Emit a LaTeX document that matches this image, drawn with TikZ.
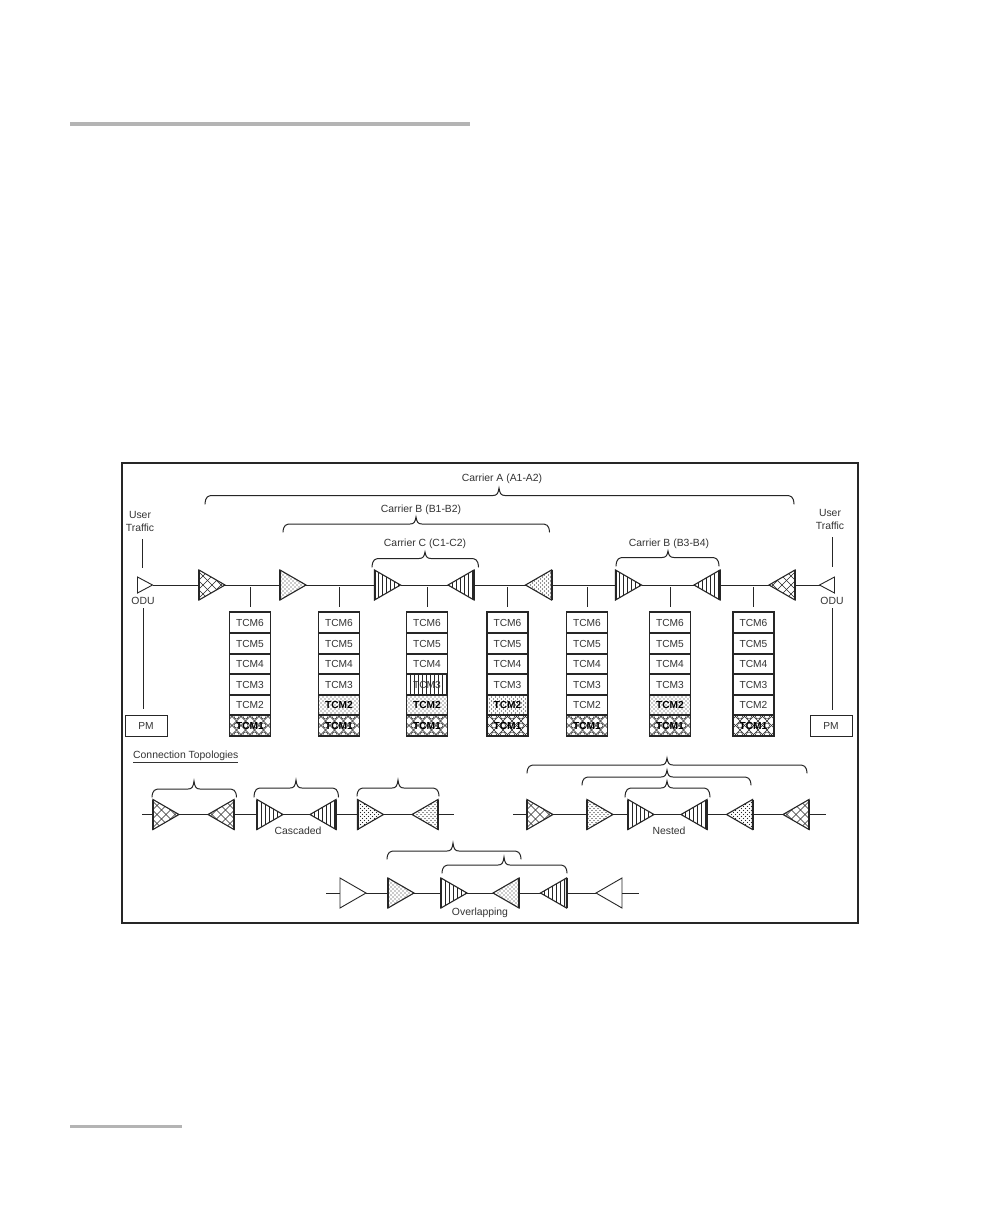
\documentclass[tikz,border=0pt]{standalone}
\usepackage{fontspec}
\setmainfont{Liberation Sans}
\definecolor{ink}{HTML}{262626}
\definecolor{txt}{HTML}{333333}
\definecolor{bar}{HTML}{B4B4B4}
\tikzset{
  wire/.style={draw=ink,line width=1pt},
  tribox/.style={inner sep=0pt,outer sep=0pt,minimum width=26pt,minimum height=30pt},
  smallbox/.style={inner sep=0pt,outer sep=0pt,minimum width=15pt,minimum height=16pt},
  cell/.style={inner sep=0pt,outer sep=0pt,minimum width=41pt,text=txt,font=\fontsize{10.2}{12}\selectfont},
  lab/.style={inner sep=0pt,text=txt,font=\fontsize{10.4}{12}\selectfont},
  pmbox/.style={draw=ink,line width=1pt,fill=white,inner sep=0pt,minimum width=42pt,minimum height=21pt,text=txt,font=\fontsize{10.2}{12}\selectfont},
  bracew/.style={draw=ink,line width=1pt,line cap=round},
}
\newcommand\hatchplain{}
\newcommand\hatchcross{%
  \foreach \k in {-72,-63,...,72}{
    \draw[ink,line width=0.6pt] (\k-30,-30) -- (\k+30,30);
    \draw[ink,line width=0.6pt] (\k+30,-30) -- (\k-30,30);
  }}
\newcommand\hatchcirc{%
  \hatchcross
  \foreach \a in {-27,-18,...,18}{
    \foreach \b in {-9,0,9}{
      \draw[ink,line width=0.5pt,fill=white] (\a+4.5,\b) circle (2.5);
    }}}
\newcommand\hatchdots{%
  \foreach \a in {-24,-20,...,24}{
    \foreach \b in {-16,-12,...,16}{
      \fill[ink] (\a,\b) circle (0.55);
      \fill[ink] (\a+2,\b+2) circle (0.55);
    }}}
\newcommand\hatchstripes{%
  \foreach \k in {-22,-18,...,22}{
    \draw[ink,line width=1pt] (\k+1,-30) -- (\k+1,30);
  }}
\newcommand\weightplain{}
\newcommand\weightstripes{}
\newcommand\weightdots{\bfseries\color{black}}
\newcommand\weightcirc{\bfseries\color{black}}
% name, x, y, direction (r or l), hatch
\newcommand\mytri[5]{%
  \node[tribox] (#1) at (#2,#3) {};
  \begin{scope}
    \ifx r#4\clip (#1.north west) -- (#1.east) -- (#1.south west) -- cycle;
    \else\clip (#1.north east) -- (#1.west) -- (#1.south east) -- cycle;\fi
    \begin{scope}[shift={(#1.center)}]\csname hatch#5\endcsname\end{scope}
  \end{scope}
  \ifx r#4\draw[ink,line width=1.1pt,line join=miter] (#1.north west) -- (#1.east) -- (#1.south west) -- cycle;
  \draw[ink,line width=2pt] (#1.north west) -- (#1.south west);
  \else\draw[ink,line width=1.1pt,line join=miter] (#1.north east) -- (#1.west) -- (#1.south east) -- cycle;
  \draw[ink,line width=2pt] (#1.north east) -- (#1.south east);\fi
}
% name, x, y, direction: empty triangle
\newcommand\myopen[4]{%
  \node[tribox] (#1) at (#2,#3) {};
  \ifx r#4\draw[ink,line width=0.9pt] (#1.north west) -- (#1.east) -- (#1.south west) -- cycle;
  \else\draw[ink,line width=0.9pt] (#1.north east) -- (#1.west) -- (#1.south east) -- cycle;\fi
}
% name, x, top y, bottom y, hatch, label
\newcommand\mycell[6]{%
  \node[cell,minimum height=#4-#3] (#1) at (#2,{(#3+#4)/2}) {};
  \begin{scope}
    \clip (#1.south west) rectangle (#1.north east);
    \begin{scope}[shift={(#1.center)}]\csname hatch#5\endcsname\end{scope}
  \end{scope}
  \draw[ink,line width=1.1pt] (#1.south west) rectangle (#1.north east);
  \node[cell] at (#1.center) {\csname weight#5\endcsname #6};
}
% name, x, hatch of TCM3, hatch of TCM2
\newcommand\mystack[4]{%
  \mycell{#1f}{#2}{612}{633}{plain}{TCM6}
  \mycell{#1e}{#2}{633}{654}{plain}{TCM5}
  \mycell{#1d}{#2}{654}{674}{plain}{TCM4}
  \mycell{#1c}{#2}{674}{695}{#3}{TCM3}
  \mycell{#1b}{#2}{695}{715}{#4}{TCM2}
  \mycell{#1a}{#2}{715}{736}{circ}{TCM1}
}
% left x, right x, bottom y, top y, tip x, tip y
\newcommand\mybrace[6]{%
  \draw[bracew] (#1,#3) .. controls (#1+0.5,#4+1) and (#1+3,#4) .. (#1+8,#4)
    -- (#5-6,#4) .. controls (#5-2,#4) and (#5-0.8,#4-2) .. (#5,#6)
    .. controls (#5+0.8,#4-2) and (#5+2,#4) .. (#5+6,#4)
    -- (#2-8,#4) .. controls (#2-3,#4) and (#2-0.5,#4+1) .. (#2,#3);
}
\begin{document}
\begin{tikzpicture}[x=1pt,y=-1pt]
\useasboundingbox (0,0) rectangle (1008,1224);
\fill[white] (0,0) rectangle (1008,1224);
% page rules
\fill[bar] (70,122) rectangle (470,126);
\fill[bar] (70,1124.5) rectangle (182,1128);
% frame
\node[draw=ink,line width=1.8pt,inner sep=0pt,minimum width=736pt,minimum height=460pt] (frame) at (490,693) {};
% main row
\node[smallbox] (odul) at (145,585) {};
\draw[ink,line width=0.9pt] (odul.north west) -- (odul.east) -- (odul.south west) -- cycle;
\mytri{a1}{212}{585}{r}{cross}
\mytri{b1}{293}{585}{r}{dots}
\mytri{c1}{387.5}{585}{r}{stripes}
\mytri{c2}{461}{585}{l}{stripes}
\mytri{b2}{538.5}{585}{l}{dots}
\mytri{b3}{628.5}{585}{r}{stripes}
\mytri{b4}{707}{585}{l}{stripes}
\mytri{a2}{782}{585}{l}{cross}
\node[smallbox] (odur) at (827,585) {};
\draw[ink,line width=0.9pt] (odur.north east) -- (odur.west) -- (odur.south east) -- cycle;
\foreach \p/\q in {odul/a1,a1/b1,b1/c1,c1/c2,c2/b2,b2/b3,b3/b4,b4/a2,a2/odur}{
  \draw[wire] (\p.east) -- (\q.west);
}
% stacks
\mystack{s1}{250}{plain}{plain}
\mystack{s2}{339}{plain}{dots}
\mystack{s3}{427}{stripes}{dots}
\mystack{s4}{507.5}{plain}{dots}
\mystack{s5}{587}{plain}{plain}
\mystack{s6}{670}{plain}{dots}
\mystack{s7}{753.5}{plain}{plain}
\foreach \s in {s1,s2,s3,s4,s5,s6,s7}{
  \coordinate (\s top) at (\s f.north |- a1.center);
  \draw[wire,shorten <=2pt,shorten >=5pt] (\s top) -- (\s f.north);
}
% end labels
\node[lab] (ut1) at (140,515) {User};
\node[lab] (ut2) at (140,528) {Traffic};
\node[lab] (odult) at (143,601) {ODU};
\node[pmbox] (pml) at (146,725.5) {PM};
\coordinate (utl) at (142.5,539);
\coordinate (utlb) at (142.5,568);
\draw[wire] (utl) -- (utlb);
\coordinate (odla) at (143,608);
\coordinate (odlb) at (143,709);
\draw[wire] (odla) -- (odlb);
\node[lab] (ut3) at (830,513) {User};
\node[lab] (ut4) at (830,525.5) {Traffic};
\node[lab] (odurt) at (832,601) {ODU};
\node[pmbox] (pmr) at (831,725.5) {PM};
\coordinate (utr) at (832.7,537);
\coordinate (utrb) at (832.7,567);
\draw[wire] (utr) -- (utrb);
\coordinate (odra) at (832.7,608);
\coordinate (odrb) at (832.7,710);
\draw[wire] (odra) -- (odrb);
% carrier braces
\mybrace{205}{794}{504}{495.5}{499}{488}
\node[lab] (ca) at (502,479) {Carrier A (A1-A2)};
\mybrace{283}{549.5}{532}{524}{416}{517}
\node[lab] (cb) at (421,510) {Carrier B (B1-B2)};
\mybrace{372}{478.5}{567}{558.5}{425}{552}
\node[lab] (cc) at (425,544) {Carrier C (C1-C2)};
\mybrace{616}{719}{566}{557.5}{668}{551}
\node[lab] (cb2) at (669,544) {Carrier B (B3-B4)};
% topologies
\node[lab,anchor=west] (ct) at (133,757) {\underline{Connection Topologies}};
% cascaded
\coordinate (e1) at (142,814.5);
\coordinate (e2) at (454,814.5);
\mytri{k1}{166}{814.5}{r}{cross}
\mytri{k2}{221}{814.5}{l}{cross}
\mytri{k3}{270}{814.5}{r}{stripes}
\mytri{k4}{323}{814.5}{l}{stripes}
\mytri{k5}{370.5}{814.5}{r}{dots}
\mytri{k6}{425}{814.5}{l}{dots}
\draw[wire] (e1) -- (k1.west);
\foreach \p/\q in {k1/k2,k2/k3,k3/k4,k4/k5,k5/k6}{\draw[wire] (\p.east) -- (\q.west);}
\draw[wire] (k6.east) -- (e2);
\mybrace{152}{236.5}{797}{789}{194}{781}
\mybrace{254}{338.5}{797}{788}{296}{780}
\mybrace{357}{439}{796}{788}{398}{780}
\node[lab] (casc) at (298,831) {Cascaded};
% nested
\coordinate (n0) at (513,814.5);
\coordinate (n9) at (825.5,814.5);
\mytri{n1}{540}{814.5}{r}{cross}
\mytri{n2}{600}{814.5}{r}{dots}
\mytri{n3}{641}{814.5}{r}{stripes}
\mytri{n4}{694}{814.5}{l}{stripes}
\mytri{n5}{739.5}{814.5}{l}{dots}
\mytri{n6}{796}{814.5}{l}{cross}
\draw[wire] (n0) -- (n1.west);
\foreach \p/\q in {n1/n2,n2/n3,n3/n4,n4/n5,n5/n6}{\draw[wire] (\p.east) -- (\q.west);}
\draw[wire] (n6.east) -- (n9);
\mybrace{527}{807}{773}{765}{667}{758}
\mybrace{582}{751}{785}{777}{667}{770}
\mybrace{625}{710}{797}{788}{667}{781}
\node[lab] (nest) at (669,831) {Nested};
% overlapping
\coordinate (o0) at (326,893);
\coordinate (o9) at (639,893);
\myopen{o1}{353}{893}{r}
\mytri{o2}{401}{893}{r}{dots}
\mytri{o3}{454}{893}{r}{stripes}
\mytri{o4}{506}{893}{l}{dots}
\mytri{o5}{553.5}{893}{l}{stripes}
\myopen{o6}{609}{893}{l}
\draw[wire] (o0) -- (o1.west);
\foreach \p/\q in {o1/o2,o2/o3,o3/o4,o4/o5,o5/o6}{\draw[wire] (\p.east) -- (\q.west);}
\draw[wire] (o6.east) -- (o9);
\mybrace{387}{521}{859}{851}{453}{843}
\mybrace{442}{567}{873}{865}{504}{857}
\node[lab] (over) at (480,913) {Overlapping};
\end{tikzpicture}
\end{document}
